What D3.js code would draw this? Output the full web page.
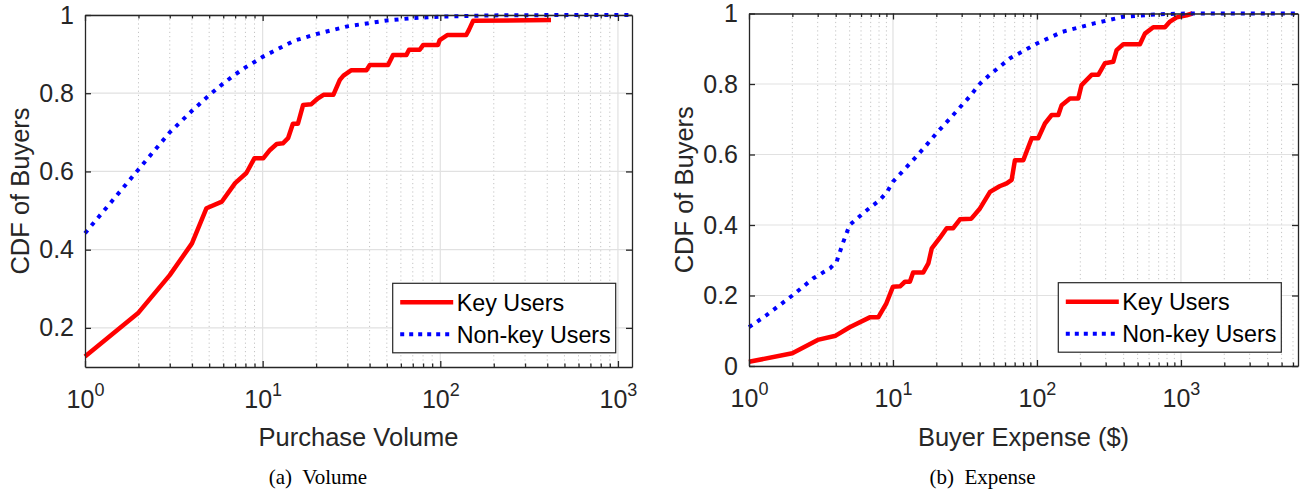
<!DOCTYPE html>
<html>
<head>
<meta charset="utf-8">
<script src="https://cdn.jsdelivr.net/npm/d3@7"></script>
<style>
  body { margin: 0; background: #fff; }
  svg { display: block; }
</style>
</head>
<body>
<svg id="chart" width="1304" height="493"></svg>
<script>
// (a) Volume: CDF of purchase volume per buyer
var volumeKeyX = [1, 2, 3, 4, 4.83, 5.9, 7, 8.1, 9, 10.1, 11, 12, 13, 13.9, 14.8, 15.8, 16.9, 18.8, 20.5, 22, 25, 27.2, 28.5, 31.6, 38.4, 40.1, 50.8, 54.2, 64.5, 66.7, 76.6, 80, 97, 99.3, 110, 140, 145, 153, 420];
var volumeKeyY = [0.127, 0.239, 0.335, 0.416, 0.506, 0.523, 0.570, 0.596, 0.634, 0.634, 0.655, 0.670, 0.672, 0.685, 0.722, 0.722, 0.770, 0.772, 0.787, 0.796, 0.796, 0.834, 0.845, 0.859, 0.859, 0.872, 0.872, 0.898, 0.898, 0.911, 0.911, 0.923, 0.923, 0.936, 0.949, 0.949, 0.962, 0.985, 0.987];
var volumeOtherX = [1, 2, 3, 4, 5, 6, 7, 8, 9, 10, 15, 20, 30, 50, 70, 100, 200, 500, 1200];
var volumeOtherY = [0.442, 0.605, 0.700, 0.755, 0.795, 0.825, 0.848, 0.866, 0.880, 0.893, 0.934, 0.951, 0.971, 0.986, 0.992, 0.996, 0.999, 1, 1];

// (b) Expense: CDF of buyer expense ($)
var expenseKeyX = [1, 2, 3, 4, 5, 6.9, 7.9, 9, 10, 11.2, 12.1, 13.1, 13.8, 16.2, 17.6, 18.6, 21.2, 23.6, 26.2, 29.2, 35, 40.2, 47.2, 55, 61.6, 66.7, 70.3, 80.4, 91.9, 102, 113.6, 126.5, 140.7, 148.4, 169.4, 193.6, 204, 239.6, 266.6, 296.8, 338.7, 357.4, 398, 519, 562, 642, 774, 839, 934, 1096, 1200];
var expenseKeyY = [0.012, 0.036, 0.074, 0.086, 0.110, 0.138, 0.138, 0.178, 0.225, 0.226, 0.239, 0.239, 0.265, 0.265, 0.291, 0.334, 0.364, 0.391, 0.391, 0.416, 0.418, 0.447, 0.494, 0.510, 0.518, 0.528, 0.584, 0.584, 0.646, 0.646, 0.688, 0.712, 0.712, 0.740, 0.759, 0.759, 0.797, 0.826, 0.826, 0.859, 0.863, 0.896, 0.913, 0.913, 0.943, 0.961, 0.961, 0.977, 0.989, 0.995, 1];
var expenseOtherX = [1, 1.33, 2, 2.8, 3.65, 4.06, 4.5, 5, 6.4, 8.1, 9.1, 10, 13.5, 16.7, 20, 25, 34, 40, 47, 65, 100, 150, 250, 400, 700, 1100, 6500];
var expenseOtherY = [0.110, 0.145, 0.200, 0.249, 0.277, 0.296, 0.350, 0.400, 0.438, 0.471, 0.494, 0.523, 0.580, 0.622, 0.660, 0.703, 0.764, 0.800, 0.826, 0.873, 0.915, 0.948, 0.972, 0.991, 0.998, 1, 1];

var seriesNames = ['Key Users', 'Non-key Users'];
var captions = ['(a)\u00a0 Volume', '(b)\u00a0 Expense'];

var axisColor = '#262626';
var font = '"Liberation Sans", Arial, Helvetica, sans-serif';

var svg = d3.select('#chart');

function zip(xs, ys) {
    return xs.map(function (v, i) { return [v, ys[i]]; });
}

function drawPanel(p) {
    var g = svg.append('g');
    var x = d3.scaleLog().domain(p.xDomain).range([p.left, p.right]);
    var y = d3.scaleLinear().domain(p.yDomain).range([p.bottom, p.top]);

    var decades = [1, 10, 100, 1000];
    var minor = [];
    decades.forEach(function (d) {
        for (var k = 2; k <= 9; k++) {
            if (d * k < p.xDomain[1]) minor.push(d * k);
        }
    });

    // grid: minor dotted, major solid
    g.append('g').selectAll('line').data(minor).enter().append('line')
        .attr('x1', x).attr('x2', x).attr('y1', p.top).attr('y2', p.bottom)
        .attr('stroke', '#c4c4c4').attr('stroke-width', 1).attr('stroke-dasharray', '1.2,3');
    g.append('g').selectAll('line').data(decades.slice(1)).enter().append('line')
        .attr('x1', x).attr('x2', x).attr('y1', p.top).attr('y2', p.bottom)
        .attr('stroke', '#e1e1e1').attr('stroke-width', 1.2);
    g.append('g').selectAll('line').data(p.yTicks).enter().append('line')
        .attr('x1', p.left).attr('x2', p.right).attr('y1', y).attr('y2', y)
        .attr('stroke', '#e1e1e1').attr('stroke-width', 1.2);

    var line = d3.line()
        .x(function (d) { return x(d[0]); })
        .y(function (d) { return y(d[1]); });

    g.append('path').datum(zip(p.keyX, p.keyY))
        .attr('d', line)
        .attr('fill', 'none').attr('stroke', '#ff0000')
        .attr('stroke-width', 4.5).attr('stroke-linejoin', 'round');

    g.append('path').datum(zip(p.otherX, p.otherY))
        .attr('d', line)
        .attr('fill', 'none').attr('stroke', '#0000ff')
        .attr('stroke-width', 4).attr('stroke-dasharray', '4,6');

    // axes (ticks point inwards, box on)
    var bottom = g.append('g').attr('transform', 'translate(0,' + p.bottom + ')')
        .call(d3.axisBottom(x).tickValues(decades).tickSize(-6).tickSizeOuter(0));
    bottom.selectAll('.tick text').text(null)
        .attr('y', 41).attr('dy', null)
        .each(function (d) {
            var t = d3.select(this);
            t.append('tspan').text('10');
            t.append('tspan').attr('dy', -12).attr('font-size', 18).text(Math.round(Math.log10(d)));
        });
    g.append('g').attr('transform', 'translate(0,' + p.bottom + ')')
        .call(d3.axisBottom(x).tickValues(minor).tickSize(-3.5).tickSizeOuter(0).tickFormat(''))
        .select('.domain').remove();

    g.append('g').attr('transform', 'translate(0,' + p.top + ')')
        .call(d3.axisTop(x).tickValues(decades).tickSize(-6).tickSizeOuter(0).tickFormat(''));
    g.append('g').attr('transform', 'translate(0,' + p.top + ')')
        .call(d3.axisTop(x).tickValues(minor).tickSize(-3.5).tickSizeOuter(0).tickFormat(''))
        .select('.domain').remove();

    g.append('g').attr('transform', 'translate(' + p.left + ',0)')
        .call(d3.axisLeft(y).tickValues(p.yTicks).tickSize(-6).tickSizeOuter(0).tickPadding(11)
            .tickFormat(function (d) { return String(d); }));
    g.append('g').attr('transform', 'translate(' + p.right + ',0)')
        .call(d3.axisRight(y).tickValues(p.yTicks).tickSize(-6).tickSizeOuter(0).tickFormat(''));

    g.selectAll('.domain, .tick line').attr('stroke', axisColor).attr('stroke-width', 1.3);
    g.selectAll('.tick text').attr('fill', axisColor).attr('font-size', 25).attr('font-family', font);

    // labels
    g.append('text')
        .attr('x', (p.left + p.right) / 2).attr('y', 446)
        .attr('text-anchor', 'middle')
        .attr('font-family', font).attr('font-size', 25.5).attr('fill', axisColor)
        .text(p.xLabel);
    g.append('text')
        .attr('transform', 'translate(' + p.yLabelX + ',' + (p.top + p.bottom) / 2 + ') rotate(-90)')
        .attr('text-anchor', 'middle').attr('dy', '0.35em')
        .attr('font-family', font).attr('font-size', 25.5).attr('fill', axisColor)
        .text('CDF of Buyers');
    g.append('text')
        .attr('x', p.captionX).attr('y', 484)
        .attr('text-anchor', 'middle')
        .attr('font-family', '"Liberation Serif", "Times New Roman", serif').attr('font-size', 21)
        .attr('fill', '#000')
        .text(p.caption);

    // legend
    var lg = g.append('g').attr('transform', 'translate(' + p.legendX + ',' + p.legendY + ')');
    lg.append('rect').attr('width', 223).attr('height', 69.5)
        .attr('fill', '#fff').attr('stroke', axisColor).attr('stroke-width', 1.2);
    var rows = lg.selectAll('g.row').data(seriesNames).enter().append('g')
        .attr('class', 'row')
        .attr('transform', function (d, i) { return 'translate(0,' + (19 + i * 32) + ')'; });
    rows.append('line')
        .attr('x1', 7.5).attr('x2', 60.5)
        .attr('stroke', function (d, i) { return i === 0 ? '#ff0000' : '#0000ff'; })
        .attr('stroke-width', function (d, i) { return i === 0 ? 4.5 : 4; })
        .attr('stroke-dasharray', function (d, i) { return i === 0 ? null : '4,5'; });
    rows.append('text')
        .attr('x', 64).attr('dy', '0.36em')
        .attr('font-family', font).attr('font-size', 23.3).attr('fill', '#000')
        .text(function (d) { return d; });
}

drawPanel({
    left: 85, right: 632, top: 15, bottom: 367,
    xDomain: [1, 1200], yDomain: [0.1, 1], yTicks: [0.2, 0.4, 0.6, 0.8, 1],
    keyX: volumeKeyX, keyY: volumeKeyY, otherX: volumeOtherX, otherY: volumeOtherY,
    xLabel: 'Purchase Volume', yLabelX: 20, caption: captions[0], captionX: 318,
    legendX: 392.7, legendY: 283.3
});

drawPanel({
    left: 749, right: 1298, top: 13.5, bottom: 366,
    xDomain: [1, 6500], yDomain: [0, 1], yTicks: [0, 0.2, 0.4, 0.6, 0.8, 1],
    keyX: expenseKeyX, keyY: expenseKeyY, otherX: expenseOtherX, otherY: expenseOtherY,
    xLabel: 'Buyer Expense ($)', yLabelX: 684, caption: captions[1], captionX: 982.5,
    legendX: 1058.3, legendY: 282.7
});
</script>
</body>
</html>
